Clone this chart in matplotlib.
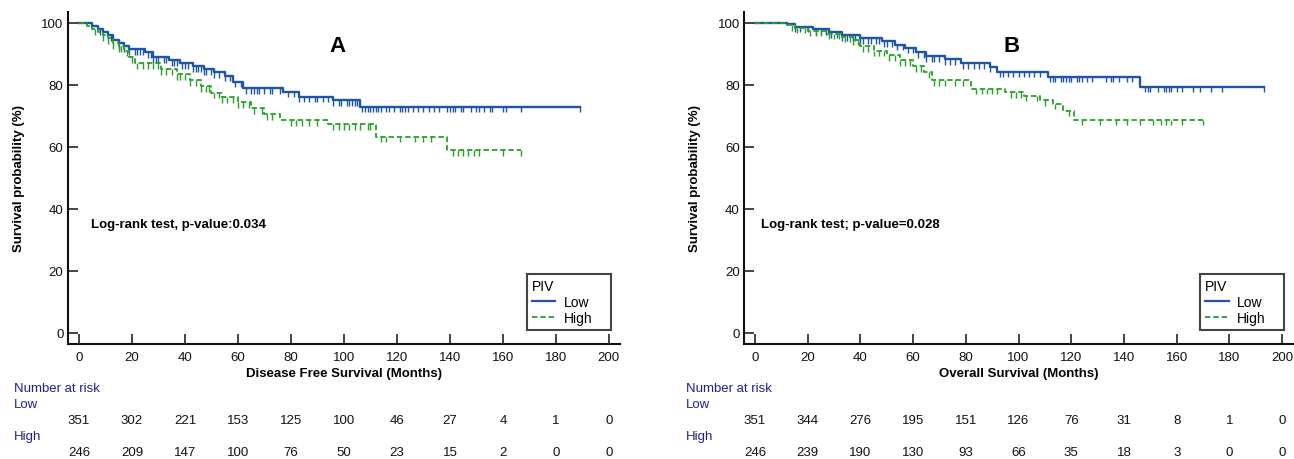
import numpy as np
import matplotlib
matplotlib.use("Agg")
import matplotlib.pyplot as plt
from matplotlib.lines import Line2D
from matplotlib.transforms import blended_transform_factory

plt.rcParams['font.family'] = ['Liberation Sans', 'DejaVu Sans']

# ---------------- data ----------------
# Panel A: Disease free survival
A_low_t = [0, 5, 7, 9, 11, 13, 15, 17, 19, 25, 28, 34, 38, 43, 47, 51, 55, 58, 62, 77, 83, 96, 106]
A_low_s = [100, 99, 98, 97, 96, 94.5, 93.5, 92.5, 91.5, 90.5, 89, 88, 87, 86, 85, 84, 83, 81, 79, 77.8, 76.2, 75, 73]
A_low_end = 189
A_low_cens = [8, 12, 15, 17, 19, 21, 22, 23, 24, 26, 27, 28, 29, 30, 32, 33, 35, 36, 37, 39, 40, 41, 43,
              44, 45, 46, 47, 48, 50, 51, 53, 55, 57, 59, 61, 63, 65, 66, 67, 68, 70, 72, 73, 76, 79, 81,
              83, 85, 87, 89, 90, 92, 94, 96, 98, 99, 101, 102, 103, 104, 105, 107, 108, 109, 110, 111,
              112, 113, 114, 116, 117, 119, 121, 122, 123, 124, 126, 128, 130, 132, 134, 136, 139, 140,
              141, 142, 144, 145, 148, 150, 151, 153, 155, 156, 160, 161, 167, 189]

A_high_t = [0, 3, 5, 7, 9, 11, 13, 15, 17, 19, 21, 31, 37, 42, 46, 50, 54, 60, 65, 70, 76, 94, 112, 139]
A_high_s = [100, 99, 98, 97, 96, 95, 93.5, 92.5, 91, 89, 87, 85, 83.5, 81.5, 79.5, 77.5, 76, 74.5, 72.5,
            70.5, 68.6, 67.4, 63.3, 59]
A_high_end = 167
A_high_cens = [6, 9, 11, 13, 15, 16, 18, 20, 22, 24, 26, 28, 30, 31, 33, 35, 37, 38, 40, 42, 44, 46, 48,
               49, 51, 53, 54, 56, 58, 60, 62, 64, 66, 69, 71, 73, 80, 82, 84, 87, 90, 96, 98, 100, 102,
               104, 106, 109, 110, 114, 116, 121, 127, 130, 133, 141, 143, 145, 147, 149, 151, 160, 167]

# Panel B: Overall survival
B_low_t = [0, 12, 15, 22, 28, 33, 40, 48, 53, 57, 61, 65, 72, 78, 89, 92, 111, 146]
B_low_s = [100, 99.5, 98.8, 98, 97, 96, 95, 94, 93, 92, 90.5, 89.3, 88.3, 87, 85.8, 84.2, 82.7, 79.4]
B_low_end = 193
B_low_cens = [15, 17, 20, 23, 25, 27, 29, 31, 33, 35, 37, 38, 40, 41, 43, 44, 46, 47, 49, 50, 52, 54, 56,
              58, 60, 62, 64, 65, 67, 68, 70, 72, 74, 76, 79, 81, 83, 85, 87, 89, 93, 94, 96, 98, 100,
              102, 104, 106, 108, 112, 113, 114, 116, 117, 118, 119, 120, 122, 123, 124, 126, 128, 133,
              135, 136, 138, 141, 143, 148, 149, 150, 153, 155, 156, 157, 158, 160, 162, 166, 169, 173,
              177, 193]

B_high_t = [0, 12, 15, 20, 27, 33, 37, 40, 45, 50, 55, 60, 64, 67, 82, 95, 102, 108, 113, 117, 121]
B_high_s = [100, 99.3, 98.5, 97.5, 96.5, 95.5, 94.5, 92.5, 91, 89.5, 88, 86, 84, 81.5, 78.8, 77.6, 76.5,
            75, 73.9, 71.7, 68.8]
B_high_end = 170
B_high_cens = [14, 16, 19, 21, 23, 25, 28, 30, 32, 34, 36, 37, 39, 41, 43, 45, 47, 49, 51, 53, 55, 57, 59,
               61, 63, 66, 68, 70, 72, 76, 79, 84, 86, 88, 90, 92, 97, 99, 101, 103, 107, 110, 114, 119,
               124, 131, 137, 141, 146, 151, 154, 156, 158, 162, 170]

risk_times = [0, 20, 40, 60, 80, 100, 120, 140, 160, 180, 200]
A_risk_low = [351, 302, 221, 153, 125, 100, 46, 27, 4, 1, 0]
A_risk_high = [246, 209, 147, 100, 76, 50, 23, 15, 2, 0, 0]
B_risk_low = [351, 344, 276, 195, 151, 126, 76, 31, 8, 1, 0]
B_risk_high = [246, 239, 190, 130, 93, 66, 35, 18, 3, 0, 0]

panels = [
    dict(letter="A", xlabel="Disease Free Survival (Months)", ptext="Log-rank test, p-value:0.034",
         low=(A_low_t, A_low_s, A_low_end, A_low_cens), high=(A_high_t, A_high_s, A_high_end, A_high_cens),
         risk_low=A_risk_low, risk_high=A_risk_high,
         rect=[67.6 / 1294, 1 - 345 / 460, (620 - 67.6) / 1294, (345 - 13) / 460],
         xlim=(-4.3, 204.2), ptx=4.5, nar_x=14),
    dict(letter="B", xlabel="Overall Survival (Months)", ptext="Log-rank test; p-value=0.028",
         low=(B_low_t, B_low_s, B_low_end, B_low_cens), high=(B_high_t, B_high_s, B_high_end, B_high_cens),
         risk_low=B_risk_low, risk_high=B_risk_high,
         rect=[744 / 1294, 1 - 345 / 460, (1294 - 744) / 1294, (345 - 13) / 460],
         xlim=(-4.17, 204.5), ptx=2.3, nar_x=686),
]

BLUE = '#1f55a5'
GREEN = '#26a026'
NAVY = '#22228a'
DASH = (0, (3, 1.6))

fig = plt.figure(figsize=(12.94, 4.6), dpi=100)


def draw_curve(ax, t, s, end, cens, color, ls, lw):
    t = np.asarray(t, float)
    s = np.asarray(s, float)
    tt = np.append(t, end)
    ss = np.append(s, s[-1])
    ax.step(tt, ss, color=color, lw=lw, where='post', linestyle=ls)
    c = np.asarray(cens, float)
    idx = np.searchsorted(t, c, side='right') - 1
    sc = s[idx]
    ax.vlines(c, sc - 1.8, sc, color=color, lw=1.0)


for p in panels:
    ax = fig.add_axes(p["rect"])
    draw_curve(ax, *p["low"], BLUE, '-', 1.7)
    draw_curve(ax, *p["high"], GREEN, DASH, 1.3)
    ax.set_xlim(*p["xlim"])
    ax.set_ylim(-3.55, 103.5)
    ax.set_xticks(risk_times)
    ax.set_yticks([0, 20, 40, 60, 80, 100])
    for side in ['top', 'right']:
        ax.spines[side].set_visible(False)
    for side in ['left', 'bottom']:
        ax.spines[side].set_linewidth(1.5)
        ax.spines[side].set_color('#111111')
    ax.tick_params(axis='both', direction='in', length=7.5, width=1.1, labelsize=9.5, colors='#111111')
    ax.tick_params(axis='x', pad=5)
    ax.tick_params(axis='y', pad=3)
    ax.set_xlabel(p["xlabel"], fontsize=9.5, fontweight='bold', labelpad=3)
    ax.set_ylabel("Survival probability (%)", fontsize=9.5, fontweight='bold')
    ax.yaxis.set_label_coords(-0.078, 0.5)
    ax.text(97.5, 92.8, p["letter"], fontsize=16, fontweight='bold', ha='center', va='center')
    ax.text(p["ptx"], 35.2, p["ptext"], fontsize=9.5, fontweight='bold', ha='left', va='center')

    handles = [Line2D([], [], color=BLUE, lw=1.6),
               Line2D([], [], color=GREEN, lw=1.3, linestyle=DASH)]
    leg = ax.legend(handles, ["Low", "High"], title="PIV", loc='lower left',
                    bbox_to_anchor=(169.0, 1.0, 31.8, 18.7), bbox_transform=ax.transData,
                    mode='expand',
                    fontsize=10, title_fontsize=10, frameon=True, fancybox=False,
                    edgecolor='#444444', framealpha=1, handlelength=1.7, handletextpad=0.6,
                    borderpad=0.35, labelspacing=0.15, borderaxespad=0)
    leg._legend_box.align = "left"
    leg.get_frame().set_linewidth(1.5)

    tr = blended_transform_factory(ax.transData, fig.transFigure)
    fig.text(p["nar_x"] / 1294, 1 - 389 / 460, "Number at risk", color=NAVY, fontsize=9.5,
             ha='left', va='center')
    fig.text(p["nar_x"] / 1294, 1 - 405 / 460, "Low", color=NAVY, fontsize=9.5, ha='left', va='center')
    fig.text(p["nar_x"] / 1294, 1 - 437 / 460, "High", color=NAVY, fontsize=9.5, ha='left', va='center')
    for x, v in zip(risk_times, p["risk_low"]):
        ax.text(x, 1 - 421 / 460, str(v), transform=tr, fontsize=9.5, ha='center', va='center',
                color='#111111')
    for x, v in zip(risk_times, p["risk_high"]):
        ax.text(x, 1 - 453 / 460, str(v), transform=tr, fontsize=9.5, ha='center', va='center',
                color='#111111')

fig.savefig("out.png", dpi=100)
